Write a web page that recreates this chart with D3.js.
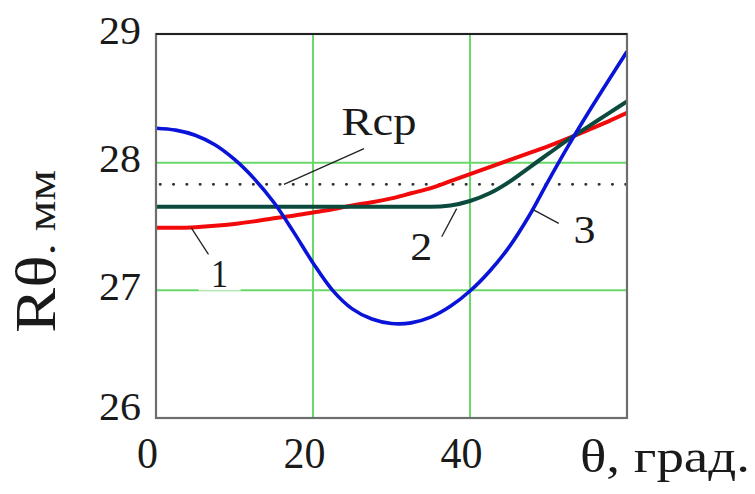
<!DOCTYPE html>
<html>
<head>
<meta charset="utf-8">
<script src="https://cdn.jsdelivr.net/npm/d3@7"></script>
<style>
  html, body { margin: 0; padding: 0; background: #fff; }
  svg { display: block; }
  text { font-family: "Liberation Serif", "Times New Roman", serif; fill: #1a1a1a; }
</style>
</head>
<body>
<svg id="chart" width="755" height="494"></svg>
<script>
// Radius R(θ) of the profile versus angle θ, three variants and the mean radius
const theta = [0, 2.5, 5, 7.5, 10, 12.5, 15, 17.5, 20, 22.5, 25, 27.5, 30,
               32.5, 35, 37.5, 40, 42.5, 45, 47.5, 50, 52.5, 55, 57.5, 60];
const curve1 = [27.49, 27.49, 27.495, 27.505, 27.52, 27.54, 27.565, 27.585, 27.61, 27.635, 27.665, 27.69, 27.72,
                27.76, 27.80, 27.855, 27.91, 27.965, 28.02, 28.075, 28.13, 28.19, 28.255, 28.32, 28.39];
const curve2 = [27.655, 27.655, 27.655, 27.655, 27.655, 27.655, 27.655, 27.655, 27.655, 27.655, 27.655, 27.655, 27.655,
                27.655, 27.655, 27.665, 27.70, 27.76, 27.85, 27.96, 28.07, 28.18, 28.28, 28.38, 28.48];
const curve3 = [28.27, 28.255, 28.215, 28.14, 28.025, 27.875, 27.69, 27.46, 27.215, 27.00, 26.855, 26.775, 26.74,
                26.745, 26.79, 26.875, 26.995, 27.15, 27.34, 27.58, 27.86, 28.13, 28.385, 28.63, 28.87];
const rMean = 27.83;

const xTicks = [0, 20, 40];
const yTicks = [26, 27, 28, 29];
const xGrid = [20, 40];
const yGrid = [27, 28];

const svg = d3.select("#chart");
const pLeft = 156, pRight = 627, pTop = 35, pBottom = 418;

const x = d3.scaleLinear().domain([0, 60]).range([pLeft, pRight]);
const y = d3.scaleLinear().domain([26, 29]).range([pBottom, pTop]);

// grid
const grid = svg.append("g").attr("stroke", "#6ad86a").attr("stroke-width", 2);
grid.selectAll("line.v").data(xGrid).join("line").attr("class", "v")
  .attr("x1", d => x(d)).attr("x2", d => x(d)).attr("y1", pTop).attr("y2", pBottom);
grid.selectAll("line.h").data(yGrid).join("line").attr("class", "h")
  .attr("x1", pLeft).attr("x2", pRight).attr("y1", d => y(d)).attr("y2", d => y(d));

// mean radius (dotted)
svg.append("line")
  .attr("x1", pLeft + 4).attr("x2", pRight)
  .attr("y1", y(rMean)).attr("y2", y(rMean))
  .attr("stroke", "#333").attr("stroke-width", 2.6)
  .attr("stroke-linecap", "round")
  .attr("stroke-dasharray", "0.5 12.8");

// curves
svg.append("clipPath").attr("id", "plotClip").append("rect")
  .attr("x", pLeft).attr("y", pTop - 1).attr("width", pRight - pLeft).attr("height", pBottom - pTop + 1);

const line = (vals, curve) => d3.line()
  .x((d, i) => x(theta[i]))
  .y(d => y(d))
  .curve(curve)(vals);

const curves = svg.append("g").attr("clip-path", "url(#plotClip)").attr("fill", "none")
  .attr("stroke-linejoin", "round");
curves.append("path").attr("d", line(curve1, d3.curveCatmullRom.alpha(0.5)))
  .attr("stroke", "#f20a0a").attr("stroke-width", 4);
curves.append("path").attr("d", line(curve2, d3.curveMonotoneX))
  .attr("stroke", "#0b4a3c").attr("stroke-width", 4);
curves.append("path").attr("d", line(curve3, d3.curveCatmullRom.alpha(0.5)))
  .attr("stroke", "#0a14d8").attr("stroke-width", 3.6);

// frame
svg.append("rect")
  .attr("x", pLeft).attr("y", pTop - 1).attr("width", pRight - pLeft).attr("height", pBottom - pTop + 1)
  .attr("fill", "none").attr("stroke", "#6e6e6e").attr("stroke-width", 2.2);
svg.append("line").attr("x1", pLeft).attr("x2", pRight).attr("y1", pTop - 1).attr("y2", pTop - 1)
  .attr("stroke", "#222").attr("stroke-width", 2);

// y axis tick labels
const yAxis = svg.append("g").attr("transform", `translate(${pLeft},0)`)
  .call(d3.axisLeft(y).tickValues(yTicks).tickSize(0).tickPadding(15).tickFormat(d3.format("d")));
yAxis.select(".domain").remove();
yAxis.selectAll("text")
  .attr("font-size", 40).attr("dy", "0.32em")
  .attr("y", d => d === 26 ? -11 : -4)
  .attr("textLength", 42).attr("lengthAdjust", "spacingAndGlyphs")
  .style("font-family", "'Liberation Serif', serif").attr("fill", "#1a1a1a");

// x axis tick labels
const xAxis = svg.append("g").attr("transform", `translate(0,${pBottom})`)
  .call(d3.axisBottom(x).tickValues(xTicks).tickSize(0).tickPadding(0).tickFormat(d3.format("d")));
xAxis.select(".domain").remove();
xAxis.selectAll("text")
  .attr("font-size", 44).attr("dy", 0).attr("y", 50).attr("x", -9)
  .attr("textLength", d => String(d).length * 21).attr("lengthAdjust", "spacingAndGlyphs")
  .style("font-family", "'Liberation Serif', serif").attr("fill", "#1a1a1a");

// axis titles
svg.append("text")
  .attr("x", 580).attr("y", 472)
  .attr("font-size", 46)
  .attr("textLength", 170).attr("lengthAdjust", "spacingAndGlyphs")
  .text("θ, град.");

const yTitle = svg.append("text")
  .attr("transform", "translate(55,333) rotate(-90)")
  .attr("textLength", 163).attr("lengthAdjust", "spacingAndGlyphs");
yTitle.append("tspan").attr("font-size", 56).text("Rθ");
yTitle.append("tspan").attr("font-size", 40).text(". мм");

// curve annotations with leader lines
const leaders = [
  { from: [4.5, 27.49], to: [6.7, 27.28] },
  { from: [38.3, 27.64], to: [36.4, 27.42] },
  { from: [48.1, 27.63], to: [51.3, 27.525] },
  { from: [16.3, 27.83], to: [26.5, 28.11] }
];
svg.append("g").attr("stroke", "#222").attr("stroke-width", 1.3)
  .selectAll("line").data(leaders).join("line")
  .attr("x1", d => x(d.from[0])).attr("y1", d => y(d.from[1]))
  .attr("x2", d => x(d.to[0])).attr("y2", d => y(d.to[1]));

const labels = [
  { t: "1", at: [8.1, 27.03], w: 17, halo: true },
  { t: "2", at: [33.8, 27.24], w: 22, halo: false },
  { t: "3", at: [54.6, 27.37], w: 22, halo: false },
  { t: "Rcp", at: [28.4, 28.22], w: 75, halo: false }
];
const lab = svg.append("g");
labels.forEach(d => {
  if (d.halo) {
    lab.append("rect")
      .attr("x", x(d.at[0]) - 21).attr("y", y(d.at[1]) - 32)
      .attr("width", 42).attr("height", 36).attr("fill", "#fff");
  }
  lab.append("text")
    .attr("x", x(d.at[0])).attr("y", y(d.at[1]))
    .attr("text-anchor", "middle")
    .attr("font-size", 40)
    .attr("textLength", d.w).attr("lengthAdjust", "spacingAndGlyphs")
    .text(d.t);
});
</script>
</body>
</html>
